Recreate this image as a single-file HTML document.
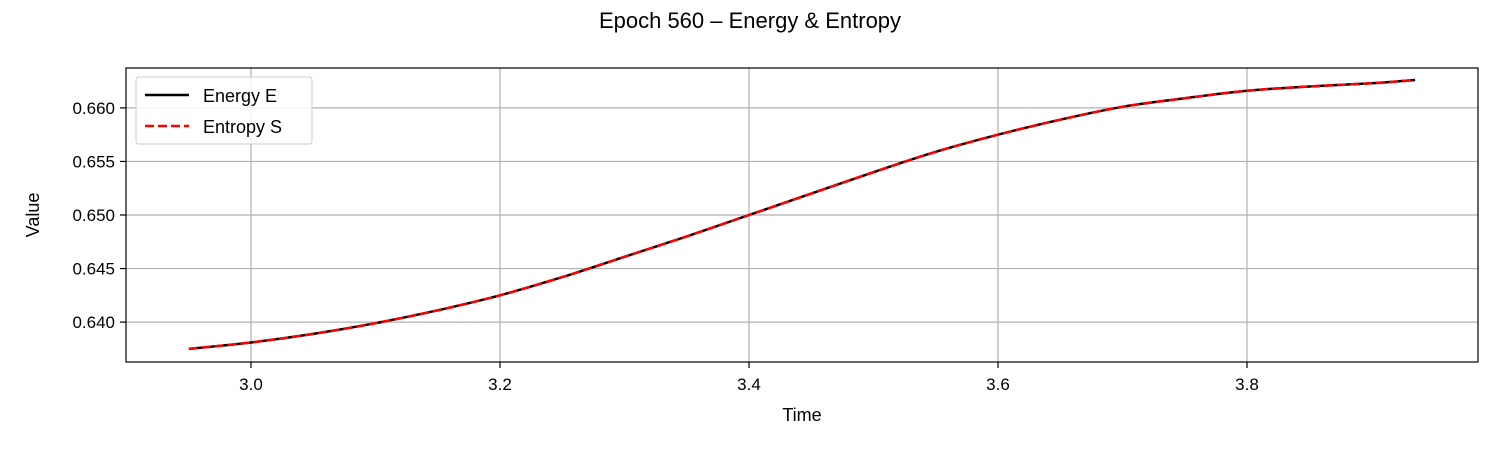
<!DOCTYPE html>
<html><head><meta charset="utf-8"><style>
body{margin:0;background:#fff;}
svg{font-family:"Liberation Sans","DejaVu Sans",sans-serif;}
</style></head><body>
<svg id="chart" width="1500" height="450">
<text x="750" y="28" text-anchor="middle" font-size="22">Epoch 560 – Energy &amp; Entropy</text>
<g id="grid"></g>
<g id="series"></g>
<rect x="126" y="68" width="1352" height="294" fill="none" stroke="#000" stroke-width="1.2"/>
<g id="ticks"></g>
<text x="802" y="421" text-anchor="middle" font-size="18">Time</text>
<text transform="translate(39,215) rotate(-90)" text-anchor="middle" font-size="18">Value</text>
<g>
<rect x="136" y="77" width="176" height="67" rx="3" fill="#fff" fill-opacity="0.85" stroke="#ccc"/>
<g>
<line x1="145" y1="95" x2="189" y2="95" stroke="#000" stroke-width="2.5"/>
<text x="203" y="102" font-size="18">Energy E</text></g>
<g>
<line x1="145" y1="126" x2="189" y2="126" stroke="red" stroke-width="2.5" stroke-dasharray="9,4"/>
<text x="203" y="133" font-size="18">Entropy S</text></g>
</g>
</svg>
<script>
const times=[2.95,3.0,3.05,3.1,3.15,3.2,3.25,3.3,3.35,3.4,3.45,3.5,3.55,3.6,3.65,3.7,3.75,3.8,3.85,3.9,3.935];
const energy=[0.6375,0.6381,0.6389,0.6399,0.6411,0.6425,0.6442,0.6461,0.6480,0.6500,0.6520,0.6540,0.6559,0.6575,0.6589,0.6601,0.6609,0.6616,0.6620,0.6623,0.6626];
const entropy=[0.6375,0.6381,0.6389,0.6399,0.6411,0.6425,0.6442,0.6461,0.6480,0.6500,0.6520,0.6540,0.6559,0.6575,0.6589,0.6601,0.6609,0.6616,0.6620,0.6623,0.6626];
const xTicks=[3.0,3.2,3.4,3.6,3.8];
const yTicks=[0.640,0.645,0.650,0.655,0.660];
const NS="http://www.w3.org/2000/svg";
function sx(t){return 251+(t-3.0)*1245;}
function sy(v){return 215-(v-0.650)*10710;}
function mk(tag,attrs,parent){const e=document.createElementNS(NS,tag);for(const k in attrs)e.setAttribute(k,attrs[k]);parent.appendChild(e);return e;}
const grid=document.getElementById('grid'),ticks=document.getElementById('ticks'),series=document.getElementById('series');
xTicks.forEach(t=>{const x=sx(t);
const g=mk('line',{x1:x,x2:x,y1:68,y2:362,stroke:'#b0b0b0','stroke-width':1.2},grid);


const tk=mk('line',{x1:x,x2:x,y1:362,y2:368,stroke:'#000','stroke-width':1.2},ticks);


const tx=mk('text',{x:x,y:390,'text-anchor':'middle','font-size':17},ticks);tx.textContent=t.toFixed(1);


});
yTicks.forEach(v=>{const y=sy(v);
const g=mk('line',{x1:126,x2:1478,y1:y,y2:y,stroke:'#b0b0b0','stroke-width':1.2},grid);


const tk=mk('line',{x1:120,x2:126,y1:y,y2:y,stroke:'#000','stroke-width':1.2},ticks);


const tx=mk('text',{x:115,y:y+6,'text-anchor':'end','font-size':17},ticks);tx.textContent=v.toFixed(3);


});
function path(vals){
 const p=times.map((t,i)=>[sx(t),sy(vals[i])]);
 let d='M'+p[0][0]+','+p[0][1];
 for(let i=0;i<p.length-1;i++){const p0=p[Math.max(0,i-1)],p1=p[i],p2=p[i+1],p3=p[Math.min(p.length-1,i+2)];
  d+=' C'+(p1[0]+(p2[0]-p0[0])/6)+','+(p1[1]+(p2[1]-p0[1])/6)+' '+(p2[0]-(p3[0]-p1[0])/6)+','+(p2[1]-(p3[1]-p1[1])/6)+' '+p2[0]+','+p2[1];}
 return d;}
const l1=mk('path',{d:path(energy),fill:'none',stroke:'#000','stroke-width':2.5},series);


const l2=mk('path',{d:path(entropy),fill:'none',stroke:'red','stroke-width':2.5,'stroke-dasharray':'9,4'},series);


</script>
</body></html>
